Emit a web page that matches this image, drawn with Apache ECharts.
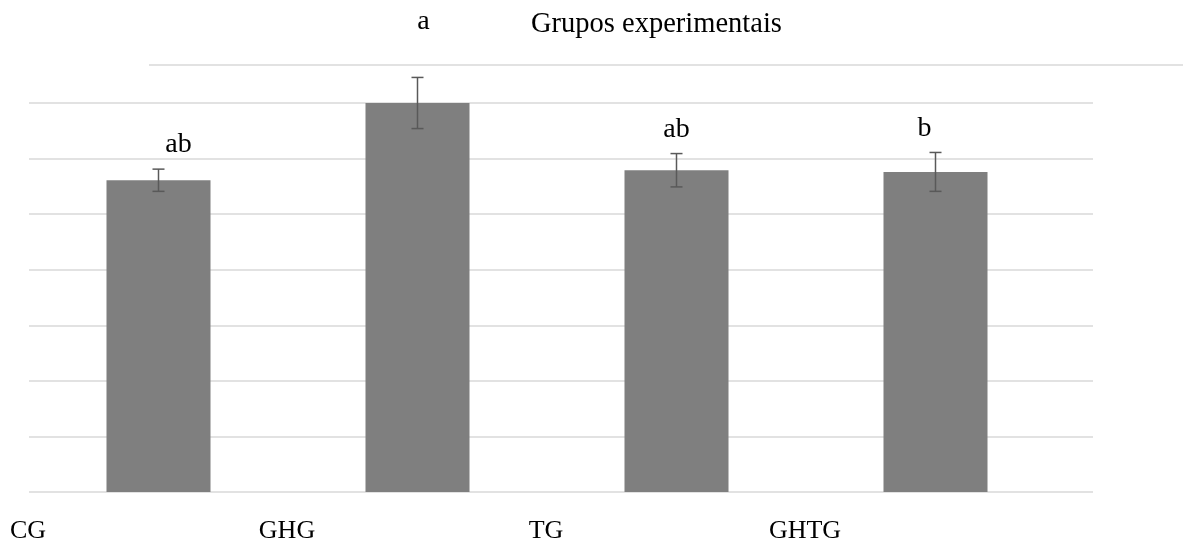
<!DOCTYPE html>
<html>
<head>
<meta charset="utf-8">
<script src="https://cdn.jsdelivr.net/npm/echarts@6/dist/echarts.min.js"></script>
<style>
  html, body {margin: 0; padding: 0; background: #fff;}
  #chart {width: 1183px; height: 547px;}
</style>
</head>
<body>
<div id="chart"></div>
<script>
const groups = ['CG', 'GHG', 'TG', 'GHTG'];
const means = [5.61, 7.0, 5.79, 5.76];
const errors = [0.2, 0.46, 0.3, 0.35];
const letters = ['ab', 'a', 'ab', 'b'];

const chart = echarts.init(document.getElementById('chart'));

const serif = 'Liberation Serif, Times New Roman, serif';
// nudges of the letter labels, as placed by hand in the original
const letterShift = [[20, 0], [6, -32], [0, 0], [-11, 0]];

chart.setOption({
    animation: false,
    title: {
        text: 'Grupos experimentais', left: 526, top: 5,
        textStyle: {fontFamily: serif, fontWeight: 'normal', fontSize: 28.5, color: '#000'}
    },
    graphic: [{
        type: 'line', shape: {x1: 149, y1: 65, x2: 1183, y2: 65},
        style: {stroke: '#d9d9d9', lineWidth: 1.5}
    }],
    grid: [
        {left: 29, right: 90, top: 103, bottom: 55},
        {left: 29, right: 118, top: 103, bottom: 55}
    ],
    xAxis: [
        {type: 'value', gridIndex: 0, show: false, min: 0, max: 1},
        {
            type: 'category', gridIndex: 1, data: groups,
            axisLine: {show: false}, axisTick: {show: false}, axisLabel: {show: false}
        }
    ],
    yAxis: [
        {
            type: 'value', gridIndex: 0, min: 0, max: 7, interval: 1,
            axisLabel: {show: false}, axisLine: {show: false}, axisTick: {show: false},
            splitLine: {lineStyle: {color: '#d9d9d9', width: 1.5}}
        },
        {type: 'value', gridIndex: 1, min: 0, max: 7, show: false, splitLine: {show: false}}
    ],
    series: [{
        type: 'bar',
        xAxisIndex: 1, yAxisIndex: 1,
        data: means,
        barWidth: 104,
        itemStyle: {color: '#7f7f7f'}
    }, {
        type: 'custom',
        xAxisIndex: 1, yAxisIndex: 1,
        z: 5,
        data: means.map((m, i) => [i, m - errors[i], m + errors[i]]),
        renderItem: function (params, api) {
            const i = params.dataIndex;
            const lo = api.coord([api.value(0), api.value(1)]);
            const hi = api.coord([api.value(0), api.value(2)]);
            const cap = 6;
            const st = {stroke: '#595959', lineWidth: 1.5};
            return {
                type: 'group',
                children: [
                    {type: 'line', shape: {x1: lo[0], y1: lo[1], x2: hi[0], y2: hi[1]}, style: st},
                    {type: 'line', shape: {x1: hi[0] - cap, y1: hi[1], x2: hi[0] + cap, y2: hi[1]}, style: st},
                    {type: 'line', shape: {x1: lo[0] - cap, y1: lo[1], x2: lo[0] + cap, y2: lo[1]}, style: st},
                    {
                        type: 'text',
                        style: {
                            text: letters[i],
                            x: hi[0] + letterShift[i][0],
                            y: hi[1] - 10 + letterShift[i][1],
                            align: 'center', verticalAlign: 'bottom',
                            font: '28px ' + serif, fill: '#000'
                        }
                    }
                ]
            };
        }
    }, {
        // group names, centred on the left edge of each band
        type: 'custom',
        xAxisIndex: 1, yAxisIndex: 1,
        data: groups.map((g, i) => [i, 0]),
        renderItem: function (params, api) {
            const p = api.coord([api.value(0), 0]);
            const band = api.size([1, 0])[0];
            return {
                type: 'text',
                style: {
                    text: groups[params.dataIndex],
                    x: p[0] - band / 2 - 1, y: p[1] + 39,
                    align: 'center', verticalAlign: 'middle',
                    font: '26px ' + serif, fill: '#000'
                }
            };
        }
    }]
});
</script>
</body>
</html>
